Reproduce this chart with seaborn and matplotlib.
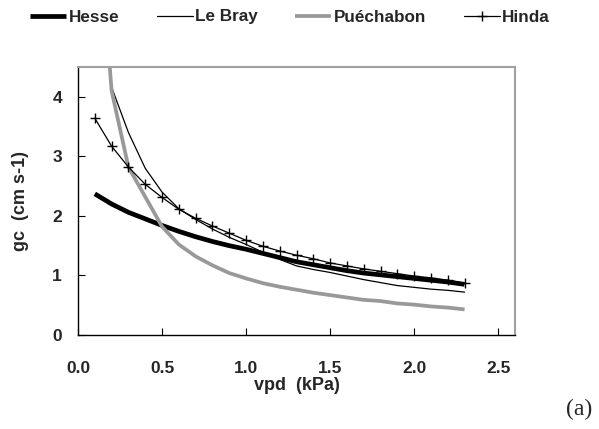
import matplotlib
matplotlib.use("Agg")
import matplotlib.pyplot as plt
import seaborn as sns
import pandas as pd
import numpy as np

# ---- data ----
vpd = [0.1, 0.2, 0.3, 0.4, 0.5, 0.6, 0.7, 0.8, 0.9, 1.0, 1.1, 1.2,
       1.3, 1.4, 1.5, 1.6, 1.7, 1.8, 1.9, 2.0, 2.1, 2.2, 2.3]
hesse = [2.37, 2.20, 2.06, 1.95, 1.84, 1.74, 1.65, 1.57, 1.50, 1.44, 1.37, 1.30,
         1.23, 1.18, 1.13, 1.08, 1.04, 1.01, 0.98, 0.95, 0.92, 0.89, 0.85]
lebray_vpd = vpd[1:]
lebray = [4.16, 3.40, 2.80, 2.40, 2.12, 1.94, 1.78, 1.64, 1.52, 1.39, 1.27,
          1.16, 1.10, 1.05, 0.99, 0.93, 0.88, 0.83, 0.80, 0.77, 0.75, 0.72]
puechabon = [7.7, 4.10, 2.82, 2.32, 1.82, 1.52, 1.32, 1.17, 1.04, 0.95, 0.87, 0.81,
             0.76, 0.71, 0.67, 0.63, 0.59, 0.57, 0.53, 0.51, 0.48, 0.46, 0.43]
hinda = [3.64, 3.17, 2.82, 2.53, 2.31, 2.11, 1.96, 1.83, 1.71, 1.59, 1.49, 1.41,
         1.34, 1.28, 1.21, 1.16, 1.11, 1.07, 1.03, 0.99, 0.96, 0.92, 0.87]
series_names = ["Hesse", "Le Bray", "Puéchabon", "Hinda"]
x_ticks = [0.0, 0.5, 1.0, 1.5, 2.0, 2.5]
y_ticks = [0, 1, 2, 3, 4]

sns.set_style("white")
plt.rcParams["font.family"] = ["Liberation Sans", "DejaVu Sans"]

fig = plt.figure(figsize=(5.99, 4.29), dpi=100)
ax = fig.add_axes([78 / 599, 1 - 335 / 429, (515 - 78) / 599, (335 - 67) / 429])

df_h = pd.DataFrame({"vpd": vpd, "gc": hesse})
df_l = pd.DataFrame({"vpd": lebray_vpd, "gc": lebray})
df_p = pd.DataFrame({"vpd": vpd, "gc": puechabon})
df_i = pd.DataFrame({"vpd": vpd, "gc": hinda})

sns.lineplot(data=df_h, x="vpd", y="gc", ax=ax, color="black", lw=3.4,
             label=series_names[0], solid_capstyle="butt")
sns.lineplot(data=df_l, x="vpd", y="gc", ax=ax, color="black", lw=0.9,
             label=series_names[1])
sns.lineplot(data=df_p, x="vpd", y="gc", ax=ax, color="#999999", lw=2.7,
             label=series_names[2], solid_capstyle="butt")
sns.lineplot(data=df_i, x="vpd", y="gc", ax=ax, color="black", lw=0.9,
             marker="+", markersize=7, markeredgewidth=1.0,
             markeredgecolor="black", markerfacecolor="black",
             label=series_names[3])

ax.set_xlim(0, 2.6)
ax.set_ylim(0, 4.5)
ax.set_xticks(x_ticks)
ax.set_xticklabels([f"{v:.1f}" for v in x_ticks])
ax.set_yticks(y_ticks)
ax.set_yticklabels([str(v) for v in y_ticks])

for lab in ax.get_xticklabels() + ax.get_yticklabels():
    lab.set_fontweight("bold")
    lab.set_fontsize(12.5)
ax.tick_params(axis="x", direction="in", length=5, width=0.8, color="black", pad=18.5)
ax.tick_params(axis="y", direction="in", length=5, width=0.8, color="black", pad=11.5)
ax.tick_params(bottom=True, left=True, top=False, right=False)

ax.set_xlabel("vpd  (kPa)", fontsize=13, fontweight="bold")
ax.set_ylabel("gc  (cm s-1)", fontsize=13, fontweight="bold")
ax.xaxis.set_label_coords(0.5, (335 - 385) / (335 - 67))
ax.yaxis.set_label_coords((20 - 78) / (515 - 78), 0.5)
ax.xaxis.label.set_va("center")
ax.yaxis.label.set_va("center")

for s in ["left", "bottom"]:
    ax.spines[s].set_color("black")
    ax.spines[s].set_linewidth(1.0)
for s in ["top", "right"]:
    ax.spines[s].set_color("#a0a0a0")
    ax.spines[s].set_linewidth(1.5)

ax.get_legend().remove()
handles, labels = ax.get_legend_handles_labels()
leg = fig.legend(handles, labels, loc="center", ncol=4,
                 bbox_to_anchor=(290 / 599, 1 - 17 / 429), frameon=False,
                 prop={"weight": "bold", "size": 12.3},
                 handlelength=2.1, handletextpad=0.15, columnspacing=2.2,
                 borderaxespad=0)

fig.text(579 / 599, 1 - 409 / 429, "(a)", fontsize=17,
         family=["Liberation Serif", "DejaVu Serif"], ha="center", va="center")

fig.savefig("out.png", dpi=100)
